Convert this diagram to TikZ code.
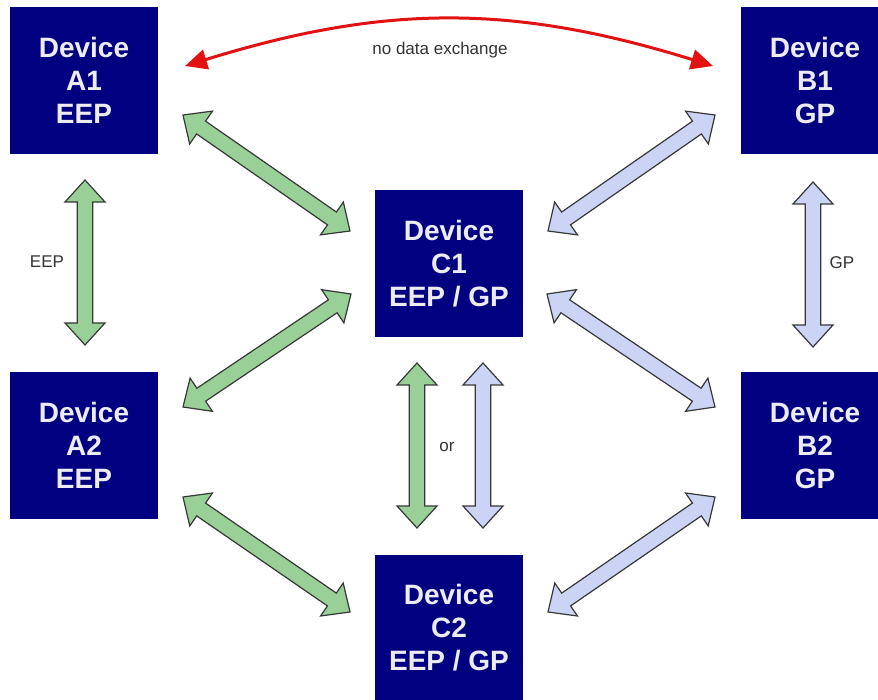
\documentclass[tikz,border=0pt]{standalone}
\usepackage{fontspec}
\setmainfont{Liberation Sans}
\usetikzlibrary{calc,arrows.meta}
\definecolor{devnavy}{RGB}{0,0,128}
\definecolor{devtext}{RGB}{236,236,244}
\definecolor{lbltext}{RGB}{51,51,51}
\definecolor{eepfill}{RGB}{152,208,152}
\definecolor{gpfill}{RGB}{204,212,245}
\definecolor{outl}{RGB}{55,55,55}
\definecolor{redarr}{RGB}{226,18,18}
\tikzset{
  dev/.style={fill=devnavy, draw=none, minimum width=148pt, minimum height=147pt,
    text=devtext, font=\bfseries\fontsize{28}{33}\selectfont, align=center, inner sep=0pt},
  lbl/.style={text=lbltext, font=\fontsize{17}{20}\selectfont, inner sep=0pt},
  eeparrow/.style={fill=eepfill, draw=outl, line width=1.2pt, line join=miter},
  gparrow/.style={fill=gpfill, draw=outl, line width=1.2pt, line join=miter},
  noexch/.style={draw=redarr, line width=3pt,
    {Triangle[length=22pt,width=20pt]}-{Triangle[length=22pt,width=20pt]}}
}
\newcommand\blockarrow[3]{%
  \filldraw[#1] (#2)
    -- ($(#2)!22pt!(#3)!20pt!90:(#3)$)
    -- ($(#2)!22pt!(#3)!7.8pt!90:(#3)$)
    -- ($(#3)!22pt!(#2)!7.8pt!-90:(#2)$)
    -- ($(#3)!22pt!(#2)!20pt!-90:(#2)$)
    -- (#3)
    -- ($(#3)!22pt!(#2)!20pt!90:(#2)$)
    -- ($(#3)!22pt!(#2)!7.8pt!90:(#2)$)
    -- ($(#2)!22pt!(#3)!7.8pt!-90:(#3)$)
    -- ($(#2)!22pt!(#3)!20pt!-90:(#3)$)
    -- cycle;}
\begin{document}
\begin{tikzpicture}[x=1pt,y=-1pt]
\useasboundingbox (0,0) rectangle (878,700);
\clip (0,0) rectangle (878,700);
% devices
\node[dev] (A1) at (84,80.5) {Device\\A1\\EEP};
\node[dev] (B1) at (815,80.5) {Device\\B1\\GP};
\node[dev] (C1) at (449,263.5) {Device\\C1\\EEP / GP};
\node[dev] (A2) at (84,445.5) {Device\\A2\\EEP};
\node[dev] (B2) at (815,445.5) {Device\\B2\\GP};
\node[dev] (C2) at (449,628) {Device\\C2\\EEP / GP};
% arrow end points
\coordinate (eA1) at (85,180);   \coordinate (eA2) at (85,345);
\coordinate (gB1) at (813,182);  \coordinate (gB2) at (813,347);
\coordinate (mE1) at (417,363);  \coordinate (mE2) at (417,528);
\coordinate (mG1) at (483,363);  \coordinate (mG2) at (483,528);
\coordinate (d1a) at (183,115);  \coordinate (d1b) at (350,231);
\coordinate (d2a) at (351,294);  \coordinate (d2b) at (183,407);
\coordinate (d3a) at (183,497);  \coordinate (d3b) at (350,612);
\coordinate (d4a) at (715,115);  \coordinate (d4b) at (548,231);
\coordinate (d5a) at (547,294);  \coordinate (d5b) at (715,407);
\coordinate (d6a) at (715,497);  \coordinate (d6b) at (548,612);
\coordinate (r1) at (185,66);    \coordinate (r2) at (713,66);
% block arrows
\blockarrow{eeparrow}{eA1}{eA2}
\blockarrow{gparrow}{gB1}{gB2}
\blockarrow{eeparrow}{mE1}{mE2}
\blockarrow{gparrow}{mG1}{mG2}
\blockarrow{eeparrow}{d1a}{d1b}
\blockarrow{eeparrow}{d2a}{d2b}
\blockarrow{eeparrow}{d3a}{d3b}
\blockarrow{gparrow}{d4a}{d4b}
\blockarrow{gparrow}{d5a}{d5b}
\blockarrow{gparrow}{d6a}{d6b}
% no data exchange
\draw[noexch] (r1) .. controls (385,4) and (513,4) .. (r2);
% labels
\node[lbl] (lnd) at (440,50) {no data exchange};
\node[lbl] (leep) at (47,262) {EEP};
\node[lbl] (lgp) at (842,263) {GP};
\node[lbl] (lor) at (447,447) {or};
\end{tikzpicture}
\end{document}
